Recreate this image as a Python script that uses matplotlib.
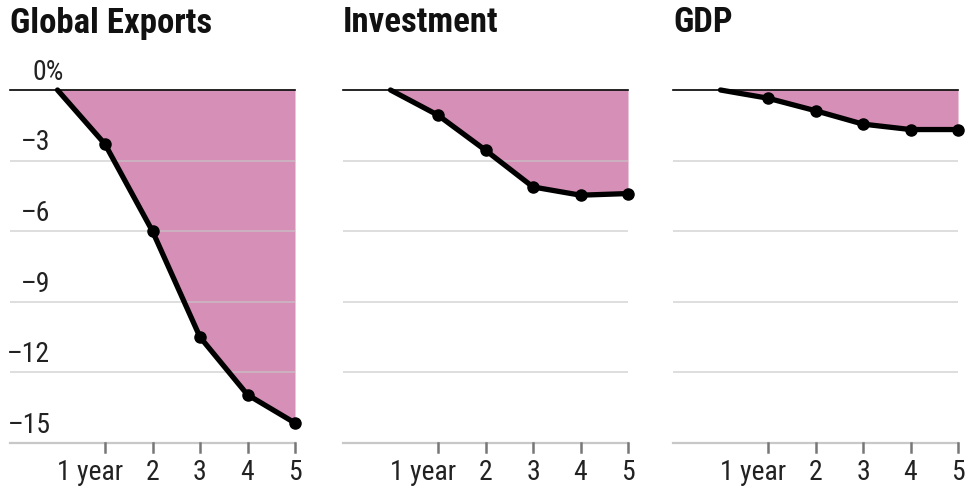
import matplotlib.pyplot as plt
from matplotlib import font_manager

titles = ['Global Exports', 'Investment', 'GDP']
years = [0, 1, 2, 3, 4, 5]
exports = [0, -2.3, -6.0, -10.5, -12.95, -14.15]
investment = [0, -1.07, -2.56, -4.12, -4.47, -4.4]
gdp = [0, -0.35, -0.88, -1.45, -1.68, -1.68]
y_ticks = [0, -3, -6, -9, -12, -15]
x_labels = ['1 year', '2', '3', '4', '5']


def pick_font(names):
    for n in names:
        try:
            font_manager.findfont(n, fallback_to_default=False)
            return n
        except ValueError:
            pass
    return 'DejaVu Sans'


main_font = pick_font(['Liberation Sans Narrow', 'Roboto Condensed',
                       'DejaVu Sans Condensed', 'Roboto'])
FONT = [main_font, 'DejaVu Sans']
plt.rcParams['font.family'] = FONT

fill_color = '#d68fb6'
grid_color = '#c8c8c8'

fig = plt.figure(figsize=(9.67, 4.87), dpi=100)
lefts = [10, 343, 673]
series = [exports, investment, gdp]

for i, (left, vals, title) in enumerate(zip(lefts, series, titles)):
    ax = fig.add_axes([left / 967, 1 - 443 / 487, 285 / 967, 353 / 487])
    ax.set_xlim(-1, 5)
    ax.set_ylim(-15, 0)
    ax.axis('off')

    ax.fill_between(years, vals, 0, color=fill_color, lw=0, zorder=1)
    for v in y_ticks[1:-1]:
        ax.axhline(v, color=grid_color, lw=1.2, zorder=2, alpha=0.7)
    ax.axhline(-15, color=grid_color, lw=1.6, zorder=2, clip_on=False)
    ax.axhline(0, color='black', lw=1.2, zorder=3, clip_on=False)
    ax.plot(years, vals, color='black', lw=3.8, zorder=4,
            solid_capstyle='round', clip_on=False)
    ax.plot(years[1:], vals[1:], 'o', color='black', ms=8, zorder=5,
            clip_on=False)

    # bottom ticks and labels
    for x, lab in zip(years[1:], x_labels):
        ax.plot([x, x], [-15, -15.38], color='#777777', lw=1.8,
                clip_on=False, zorder=3)
        dx = -11 if lab == '1 year' else 0
        ax.annotate(lab, (x, -15), xytext=(dx, -21), textcoords='offset points',
                    ha='center', va='center', fontsize=20, color='#222222',
                    annotation_clip=False)

    if i == 0:
        for v in y_ticks:
            if v == 0:
                ax.annotate('0%', (-0.52, v), xytext=(0, 3),
                            textcoords='offset points', ha='left', va='bottom',
                            fontsize=20, color='#222222', annotation_clip=False)
            else:
                ax.annotate('–' + str(-v), (-0.15, v), xytext=(0, 3),
                            textcoords='offset points', ha='right', va='bottom',
                            fontsize=20, color='#222222', annotation_clip=False)

    fig.text(left / 967, 1 - 23 / 487, title, fontsize=25, fontweight='bold',
             ha='left', va='center', color='#111111', family=FONT)

fig.savefig('out.png', dpi=100)
